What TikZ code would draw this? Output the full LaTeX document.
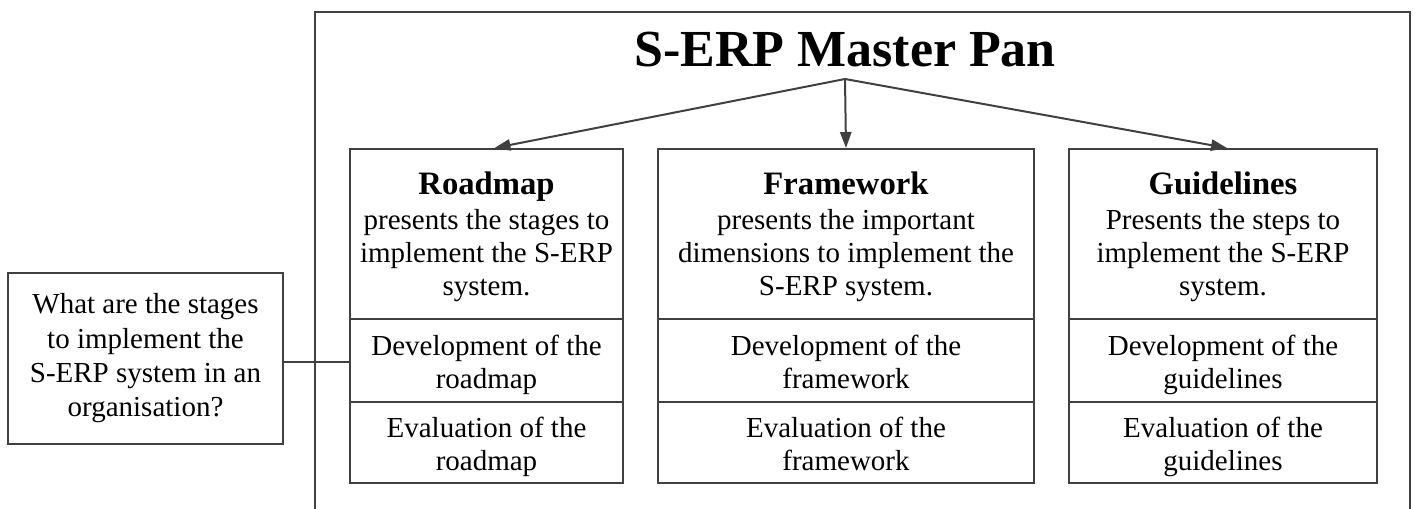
\documentclass[tikz,border=0pt]{standalone}
\usepackage{fontspec}
\setmainfont{Liberation Serif}
\usetikzlibrary{arrows.meta}
\definecolor{linegray}{RGB}{64,64,64}
\newcommand{\bodyfont}{\fontsize{21.75pt}{24.75pt}\selectfont}
\newcommand{\headfont}{\fontsize{24.5pt}{28pt}\selectfont\bfseries}
\newcommand{\topstrut}{\rule{0pt}{23pt}}
\newcommand{\botstrut}{\rule[-6pt]{0pt}{6pt}}
\begin{document}
\begin{tikzpicture}[x=0.75pt,y=-0.75pt,
  cell/.style={draw=linegray, line width=1.5pt, align=center, inner sep=0pt, font=\bodyfont, text=black},
  colR/.style={minimum width=204.75pt},
  colF/.style={minimum width=282pt},
  colG/.style={minimum width=231pt},
  rowtop/.style={minimum height=127.5pt},
  rowmid/.style={minimum height=62.25pt},
  rowbot/.style={minimum height=60.75pt},
  arr/.style={draw=linegray, line width=1.5pt, -{Triangle[length=12pt,width=8.5pt]}},
  conn/.style={draw=linegray, line width=1.5pt}
]
\useasboundingbox (0,0) rectangle (1417,509);

% outer frame (open at the bottom, beyond the page)
\node[draw=linegray, line width=1.5pt, minimum width=821.25pt, minimum height=396pt, inner sep=0pt] (frame) at (862.5,276) {};

% title
\node[anchor=base, font=\fontsize{39pt}{44pt}\selectfont\bfseries, inner sep=0pt] (title) at (845,67) {S-ERP Master Pan};
\coordinate (apex) at (845,79);

% Roadmap column
\node[cell, colR, rowtop] (rtop) at (486.5,234) {\topstrut{\headfont Roadmap}\\[1.5pt]presents the stages to\\implement the S-ERP\\system.\botstrut};
\node[cell, colR, rowmid] (rdev) at (486.5,360.5) {\topstrut Development of the\\roadmap\botstrut};
\node[cell, colR, rowbot] (reval) at (486.5,442.5) {\topstrut Evaluation of the\\roadmap\botstrut};

% Framework column
\node[cell, colF, rowtop] (ftop) at (846,234) {\topstrut{\headfont Framework}\\[1.5pt]presents the important\\dimensions to implement the\\S-ERP system.\botstrut};
\node[cell, colF, rowmid] (fdev) at (846,360.5) {\topstrut Development of the\\framework\botstrut};
\node[cell, colF, rowbot] (feval) at (846,442.5) {\topstrut Evaluation of the\\framework\botstrut};

% Guidelines column
\node[cell, colG, rowtop] (gtop) at (1223,234) {\topstrut{\headfont Guidelines}\\[1.5pt]Presents the steps to\\implement the S-ERP\\system.\botstrut};
\node[cell, colG, rowmid] (gdev) at (1223,360.5) {\topstrut Development of the\\guidelines\botstrut};
\node[cell, colG, rowbot] (geval) at (1223,442.5) {\topstrut Evaluation of the\\guidelines\botstrut};

% question box
\node[cell, font=\fontsize{21.75pt}{25.75pt}\selectfont, minimum width=206.25pt, minimum height=128.25pt] (q) at (145.5,358.5) {What are the stages\\to implement the\\S-ERP system in an\\organisation?};

% connectors
\draw[arr] (apex) -- ([xshift=6pt]rtop.north);
\draw[arr] (apex) -- (ftop.north);
\draw[arr] (apex) -- ([xshift=3pt]gtop.north);
\draw[conn] (q.east |- 0,362) -- (rdev.west |- 0,362);
\end{tikzpicture}
\end{document}
